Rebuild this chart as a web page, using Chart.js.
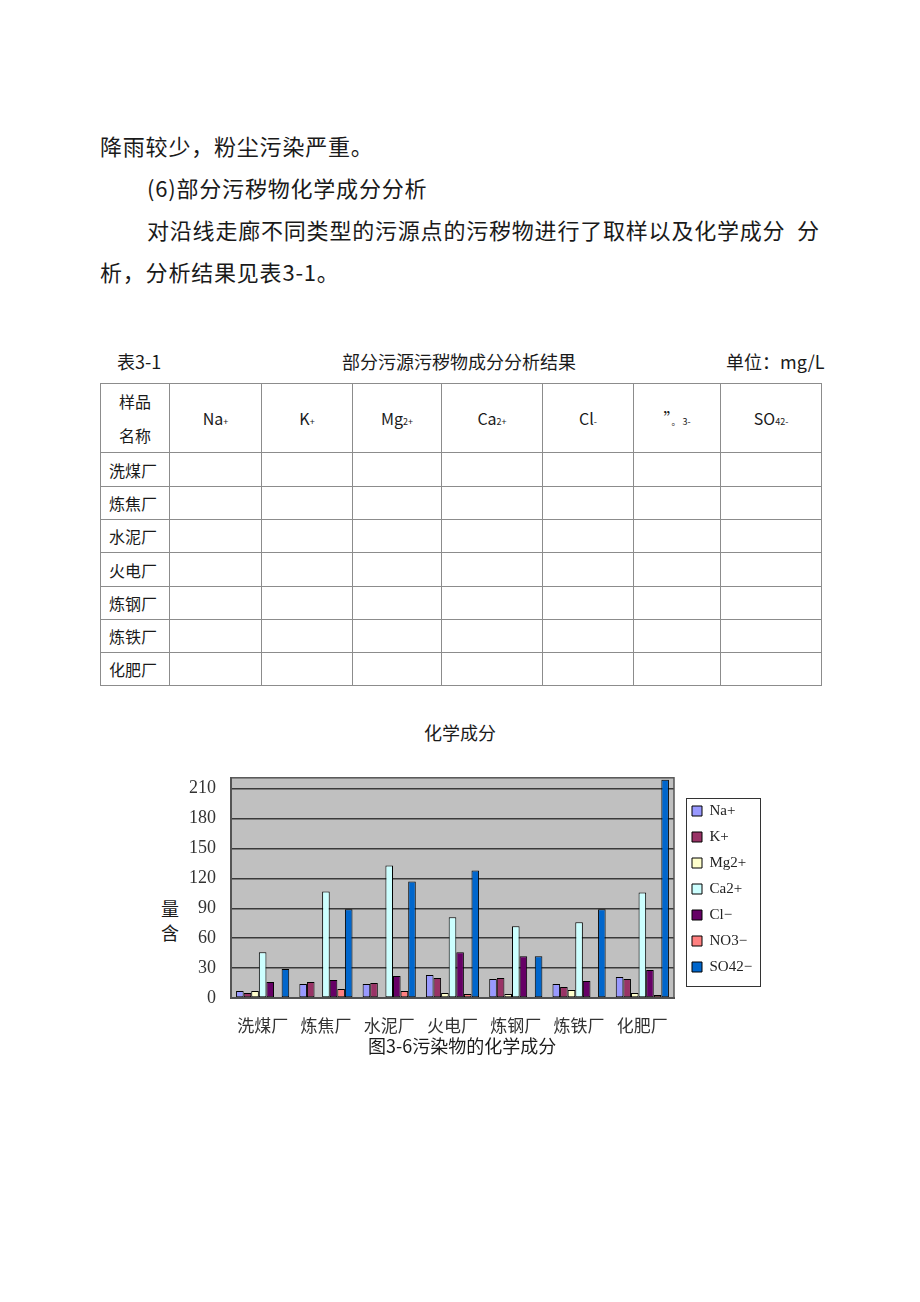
<!DOCTYPE html>
<html>
<head>
<meta charset="utf-8">
<script src="https://cdn.jsdelivr.net/npm/chart.js"></script>
<style>
    body { margin: 0; background: #fff; font-family: "Noto Sans CJK SC", sans-serif; color: #1a1a1a; }
    .page { position: relative; width: 920px; height: 1302px; overflow: hidden; }
    .line { position: absolute; font-size: 22px; letter-spacing: 0.8px; line-height: 30px; white-space: nowrap; }
    .cap { position: absolute; font-size: 18px; line-height: 24px; white-space: nowrap; }
    table.t31 { position: absolute; left: 100px; top: 383px; width: 721px; border-collapse: collapse; table-layout: fixed; }
    table.t31 td { border: 1px solid #8c8c8c; padding: 0; font-size: 16px; text-align: center; }
    table.t31 td.name { text-align: left; padding-left: 8px; }
    table.t31 td small { font-size: 9px; }
    #chartBox { position: absolute; left: 150px; top: 752px; width: 620px; height: 288px; }
</style>
</head>
<body>
<div class="page">
    <div class="line" style="left:100px; top:130px;">降雨较少，粉尘污染严重。</div>
    <div class="line" style="left:147px; top:172px;">(6)部分污秽物化学成分分析</div>
    <div class="line" style="left:147px; top:214px;">对沿线走廊不同类型的污源点的污秽物进行了取样以及化学成分</div>
    <div class="line" style="left:797px; top:214px;">分</div>
    <div class="line" style="left:100px; top:256px;">析，分析结果见表3-1。</div>

    <div class="cap" style="left:117px; top:349px;">表3-1</div>
    <div class="cap" style="left:342px; top:349px;">部分污源污秽物成分分析结果</div>
    <div class="cap" style="left:726px; top:349px;">单位：mg/L</div>

    <table class="t31">
        <colgroup>
            <col style="width:69px"><col style="width:92px"><col style="width:91px"><col style="width:89px">
            <col style="width:101px"><col style="width:91px"><col style="width:87px"><col style="width:101px">
        </colgroup>
        <tr style="height:67px">
            <td style="line-height:34px">样品<br>名称</td>
            <td>Na<small>+</small></td>
            <td>K<small>+</small></td>
            <td>Mg<small>2+</small></td>
            <td>Ca<small>2+</small></td>
            <td>Cl<small>-</small></td>
            <td>”<small>。 3-</small></td>
            <td>SO<small>4</small><small>2-</small></td>
        </tr>
        <tr style="height:34px"><td class="name">洗煤厂</td><td></td><td></td><td></td><td></td><td></td><td></td><td></td></tr>
        <tr style="height:33px"><td class="name">炼焦厂</td><td></td><td></td><td></td><td></td><td></td><td></td><td></td></tr>
        <tr style="height:33px"><td class="name">水泥厂</td><td></td><td></td><td></td><td></td><td></td><td></td><td></td></tr>
        <tr style="height:34px"><td class="name">火电厂</td><td></td><td></td><td></td><td></td><td></td><td></td><td></td></tr>
        <tr style="height:33px"><td class="name">炼钢厂</td><td></td><td></td><td></td><td></td><td></td><td></td><td></td></tr>
        <tr style="height:33px"><td class="name">炼铁厂</td><td></td><td></td><td></td><td></td><td></td><td></td><td></td></tr>
        <tr style="height:33px"><td class="name">化肥厂</td><td></td><td></td><td></td><td></td><td></td><td></td><td></td></tr>
    </table>

    <div class="cap" style="left:424px; top:720px;">化学成分</div>
    <div class="cap" style="left:161px; top:896px; line-height:24px;">量<br>含</div>
    <div id="chartBox"><canvas id="chemChart"></canvas></div>
    <div class="cap" style="left:368px; top:1033px;">图3-6污染物的化学成分</div>
</div>

<script>
// --- Data (mg/L) ---
const plants = ['洗煤厂', '炼焦厂', '水泥厂', '火电厂', '炼钢厂', '炼铁厂', '化肥厂'];
const naVals  = [7, 14, 14, 23, 19, 14, 21];
const kVals   = [5, 16, 15, 20, 20, 11, 19];
const mgVals  = [7, 1, 1, 5, 4, 8, 5];
const caVals  = [46, 107, 133, 81, 72, 76, 106];
const clVals  = [16, 18, 22, 46, 42, 17, 28];
const no3Vals = [0, 9, 7, 4, 1, 1, 3];
const so4Vals = [29, 89, 117, 128, 42, 89, 219];
const yTicks  = [0, 30, 60, 90, 120, 150, 180, 210];

const seriesNames  = ['Na+', 'K+', 'Mg2+', 'Ca2+', 'Cl−', 'NO3−', 'SO42−'];
const seriesValues = [naVals, kVals, mgVals, caVals, clVals, no3Vals, so4Vals];
const seriesColors = ['#9999ff', '#993366', '#ffffcc', '#ccffff', '#660066', '#ff8080', '#0066cc'];

// gray plot area + dark frame, like the old Excel look
const plotFrame = {
    id: 'plotFrame',
    beforeDraw(chart) {
        const { ctx, chartArea: a } = chart;
        ctx.save();
        ctx.fillStyle = '#c0c0c0';
        ctx.fillRect(a.left, a.top, a.width, a.height);
        ctx.restore();
    },
    afterDraw(chart) {
        const { ctx, chartArea: a, legend } = chart;
        ctx.save();
        ctx.strokeStyle = '#555';
        ctx.lineWidth = 1.5;
        ctx.strokeRect(a.left, a.top, a.width, a.height);
        // legend frame
        const mid = (legend.top + legend.bottom) / 2;
        ctx.strokeStyle = '#333';
        ctx.lineWidth = 1;
        ctx.strokeRect(legend.left + 5.5, mid - 90.5, 74, 188);
        ctx.restore();
    }
};

// fixed legend width, and nudge legend a bit (right / up)
const legendFit = {
    id: 'legendFit',
    beforeInit(chart) {
        const origFit = chart.legend.fit;
        chart.legend.fit = function () {
            origFit.bind(chart.legend)();
            this.width = 96;
        };
    },
    afterLayout(chart) {
        chart.legend.left += 7;
        chart.legend.right += 7;
        chart.legend.top -= 7;
        chart.legend.bottom -= 7;
    }
};

new Chart(document.getElementById('chemChart'), {
    type: 'bar',
    data: {
        labels: plants,
        datasets: seriesNames.map((name, i) => ({
            label: name,
            data: seriesValues[i],
            backgroundColor: seriesColors[i],
            borderColor: '#000',
            borderWidth: 1,
            borderSkipped: false,
            categoryPercentage: 0.84,
            barPercentage: 1.0
        }))
    },
    options: {
        responsive: true,
        maintainAspectRatio: false,
        animation: false,
        layout: { padding: { top: 0, right: 0, left: 0, bottom: 0 } },
        plugins: {
            title: { display: false },
            tooltip: { enabled: false },
            legend: {
                position: 'right',
                labels: {
                    boxWidth: 10,
                    boxHeight: 10,
                    padding: 11,
                    color: '#222',
                    font: { family: 'Liberation Serif', size: 15 }
                }
            }
        },
        scales: {
            x: {
                grid: { display: false },
                border: { display: true, color: '#444', width: 2 },
                ticks: { color: '#333', padding: 9, font: { family: 'Noto Sans CJK SC', size: 17 } },
                afterFit(scale) { scale.height = 42; }
            },
            y: {
                min: 0,
                max: 221,
                grid: { color: '#3a3a3a', lineWidth: 1.5, drawTicks: false },
                border: { display: true, color: '#555', width: 2 },
                ticks: { stepSize: 30, color: '#333', padding: 15, font: { family: 'Liberation Serif', size: 18 } },
                afterBuildTicks(scale) {
                    scale.ticks = yTicks.map(v => ({ value: v }));
                },
                afterFit(scale) { scale.width = 81; }
            }
        }
    },
    plugins: [plotFrame, legendFit]
});
</script>
</body>
</html>
